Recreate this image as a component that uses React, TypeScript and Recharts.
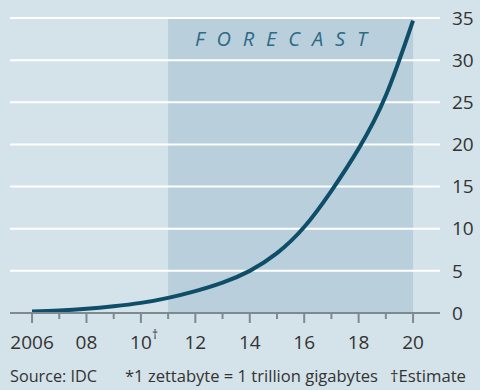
import {
  LineChart,
  Line,
  XAxis,
  YAxis,
  ReferenceLine,
  ReferenceArea,
} from "recharts";

const years = [2006, 2007, 2008, 2009, 2010, 2011, 2012, 2013, 2014, 2015, 2016, 2017, 2018, 2019, 2020];
const zettabytes = [0.18, 0.3, 0.5, 0.8, 1.2, 1.8, 2.6, 3.6, 5.0, 7.1, 10.2, 14.5, 19.5, 25.8, 34.7];
const yTicks = [0, 5, 10, 15, 20, 25, 30, 35];
const yearLabels: Record<number, string> = {
  2006: "2006",
  2008: "08",
  2010: "10",
  2012: "12",
  2014: "14",
  2016: "16",
  2018: "18",
  2020: "20",
};
const estimateYear = 2010;
const forecastFrom = 2011;
const forecastTo = 2020;

const data = years.map((y, i) => ({ year: y, value: zettabytes[i] }));

const FONT = "'Open Sans', 'DejaVu Sans', sans-serif";
const TEXT = "#333333";

function YearTick(props: any) {
  const { x, y, payload } = props;
  const yr = payload.value as number;
  const label = yearLabels[yr];
  const major = label !== undefined;
  return (
    <g>
      <line x1={x} y1={y} x2={x} y2={y + (major ? 10 : 6)} stroke="#7d8a92" strokeWidth={2} />
      {major && (
        <text x={x} y={y + 36} textAnchor="middle" fill={TEXT} fontSize={19} fontFamily={FONT}>
          {label}
        </text>
      )}
      {yr === estimateYear && (
        <text x={x + 11} y={y + 26} fill={TEXT} fontSize={12} fontFamily={FONT}>
          †
        </text>
      )}
    </g>
  );
}

export default function App() {
  return (
    <div
      style={{
        position: "absolute",
        left: 0,
        top: 0,
        width: 480,
        height: 390,
        background: "#d4e2e9",
        fontFamily: FONT,
      }}
    >
      <LineChart width={480} height={390} data={data} margin={{ top: 18, right: 0, bottom: 0, left: 10 }}>
        <ReferenceArea x1={forecastFrom} x2={forecastTo} y1={0} y2={35} fill="#b9cfdb" fillOpacity={1} stroke="none" />
        {yTicks
          .filter((t) => t > 0)
          .map((t) => (
            <ReferenceLine key={t} y={t} stroke="#ffffff" strokeWidth={2} />
          ))}
        <XAxis
          dataKey="year"
          type="number"
          domain={[2005.19, 2020.99]}
          ticks={years}
          interval={0}
          height={77}
          tickLine={false}
          tickSize={0}
          tickMargin={0}
          axisLine={{ stroke: "#7d8a92", strokeWidth: 2 }}
          tick={<YearTick />}
        />
        <YAxis
          orientation="right"
          domain={[0, 35]}
          ticks={yTicks}
          width={40}
          axisLine={false}
          tickLine={false}
          tickMargin={6}
          tick={{ fill: TEXT, fontSize: 19, fontFamily: FONT }}
        />
        <Line
          type="natural"
          dataKey="value"
          stroke="#0e4e68"
          strokeWidth={4}
          dot={false}
          isAnimationActive={false}
        />
      </LineChart>
      <svg width={480} height={390} style={{ position: "absolute", left: 0, top: 0, pointerEvents: "none" }}>
        <text
          x={195}
          y={46}
          fill="#2c6a86"
          fontSize={20}
          fontStyle="italic"
          fontFamily={FONT}
          textLength={172}
          lengthAdjust="spacing"
        >
          FORECAST
        </text>
        <text x={10} y={382} fill={TEXT} fontSize={16} fontFamily={FONT} textLength={87} lengthAdjust="spacingAndGlyphs">
          Source: IDC
        </text>
        <text x={125} y={382} fill={TEXT} fontSize={16} fontFamily={FONT} textLength={253} lengthAdjust="spacingAndGlyphs">
          *1 zettabyte = 1 trillion gigabytes
        </text>
        <text x={390} y={382} fill={TEXT} fontSize={16} fontFamily={FONT} textLength={76} lengthAdjust="spacingAndGlyphs">
          †Estimate
        </text>
      </svg>
    </div>
  );
}
